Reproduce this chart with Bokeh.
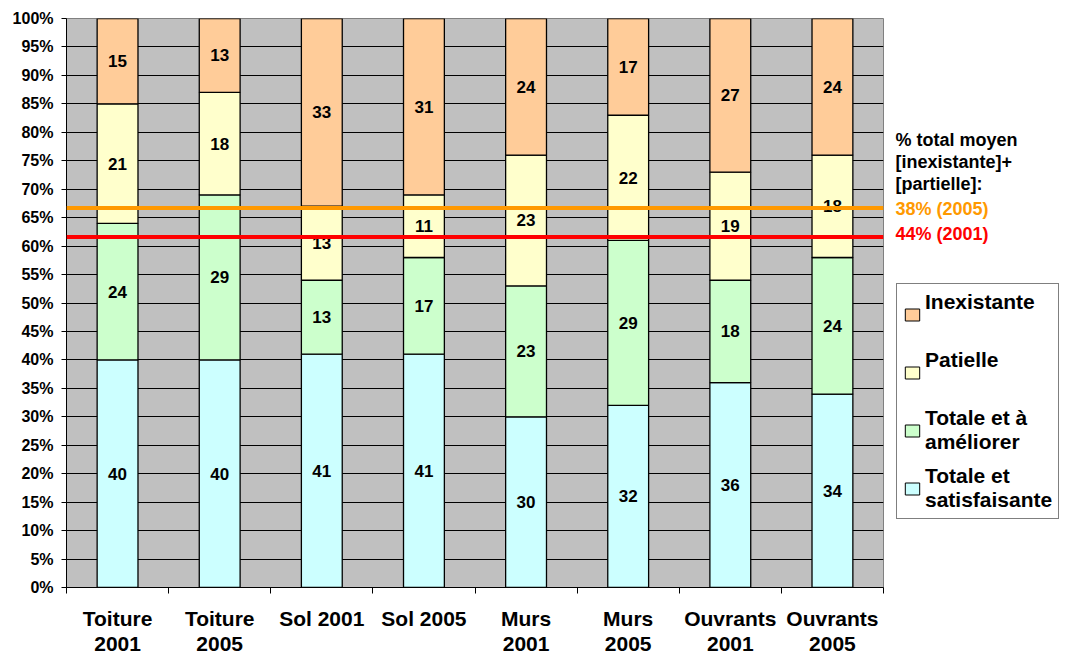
from bokeh.plotting import figure
from bokeh.layouts import row
from bokeh.models import (ColumnDataSource, FixedTicker, Range1d, Span, Label,
                          Legend, LegendItem)
from bokeh.core.properties import value
from bokeh.embed import file_html
from bokeh.resources import INLINE

categories = ["Toiture\n2001", "Toiture\n2005", "Sol 2001", "Sol 2005",
              "Murs\n2001", "Murs\n2005", "Ouvrants\n2001", "Ouvrants\n2005"]
satisfaisante = [40, 40, 41, 41, 30, 32, 36, 34]
ameliorer = [24, 29, 13, 17, 23, 29, 18, 24]
partielle = [21, 18, 13, 11, 23, 22, 19, 18]
inexistante = [15, 13, 33, 31, 24, 17, 27, 24]
series_names = ["Totale et\nsatisfaisante", "Totale et à\naméliorer",
                "Patielle\n\u00a0", "Inexistante\n\u00a0"]
series_colors = ["#CCFFFF", "#CCFFCC", "#FFFFCC", "#FFCC99"]
y_ticks = list(range(0, 101, 5))
moyen_2005 = 66.7
moyen_2001 = 61.6
note_lines = ["% total moyen", "[inexistante]+", "[partielle]:", "38% (2005)", "44% (2001)"]

FONT = "Liberation Sans"
n = len(categories)
xs = [i + 0.5 for i in range(n)]
keys = ["satisfaisante", "ameliorer", "partielle", "inexistante"]
data = dict(x=xs, satisfaisante=satisfaisante, ameliorer=ameliorer,
            partielle=partielle, inexistante=inexistante)
src = ColumnDataSource(data)

p = figure(frame_width=817, frame_height=569, x_range=Range1d(0, n),
           y_range=Range1d(0, 100), output_backend="svg", toolbar_location=None,
           min_border_left=66, min_border_top=18, min_border_right=5,
           min_border_bottom=40)
p.background_fill_color = "#C0C0C0"
p.border_fill_color = "white"
p.outline_line_color = "#808080"
p.outline_line_width = 1

rs = p.vbar_stack(keys, x="x", width=0.4, source=src, color=series_colors,
                  line_color="black", line_width=1.3)

# value labels
lx, ly, lt = [], [], []
stacks = [satisfaisante, ameliorer, partielle, inexistante]
for i in range(n):
    base = 0
    for s in stacks:
        v = s[i]
        lx.append(xs[i]); ly.append(base + v / 2); lt.append(str(v))
        base += v
p.text(x=lx, y=ly, text=lt, text_align="center", text_baseline="middle",
       text_font=value(FONT), text_font_style="bold", text_font_size="17px",
       text_color="black")

p.add_layout(Span(location=moyen_2005, dimension="width", line_color="#FF9900", line_width=4))
p.add_layout(Span(location=moyen_2001, dimension="width", line_color="#FF0000", line_width=4))

# axes
p.xgrid.grid_line_color = None
p.ygrid.grid_line_color = "black"
p.ygrid.grid_line_width = 1
p.yaxis.ticker = FixedTicker(ticks=y_ticks)
p.yaxis.major_label_overrides = {t: f"{t}%" for t in y_ticks}
p.yaxis.major_tick_out = 5
p.yaxis.major_tick_in = 0
p.yaxis.minor_tick_line_color = None
p.yaxis.major_label_standoff = 8
p.yaxis.major_label_text_font = FONT
p.yaxis.major_label_text_font_style = "bold"
p.yaxis.major_label_text_font_size = "16px"
p.yaxis.major_label_text_color = "black"
p.yaxis.axis_line_color = "black"

p.xaxis.ticker = FixedTicker(ticks=xs, minor_ticks=list(range(n + 1)))
p.xaxis.major_label_overrides = {xs[i]: categories[i] for i in range(n)}
p.xaxis.major_tick_line_color = None
p.xaxis.minor_tick_out = 6
p.xaxis.minor_tick_in = 0
p.xaxis.minor_tick_line_color = "black"
p.xaxis.major_label_standoff = 13
p.xaxis.major_label_text_font = FONT
p.xaxis.major_label_text_font_style = "bold"
p.xaxis.major_label_text_font_size = "21px"
p.xaxis.major_label_text_line_height = 1.1
p.xaxis.major_label_text_color = "black"
p.xaxis.axis_line_color = "black"

# side panel: note + legend
side = figure(width=175, frame_height=569, x_range=Range1d(0, 175),
              y_range=Range1d(0, 100), output_backend="svg", toolbar_location=None,
              min_border_left=0, min_border_right=0, min_border_top=18,
              min_border_bottom=66)
side.axis.visible = False
side.grid.grid_line_color = None
side.outline_line_color = None
side.background_fill_color = "white"
side.border_fill_color = "white"

note_colors = ["black", "black", "black", "#FF9900", "#FF0000"]
note_y = [78.6, 74.7, 70.9, 66.5, 62.2]
for t, c, yy in zip(note_lines, note_colors, note_y):
    side.add_layout(Label(x=7, y=yy, text=t, text_color=c, text_font=FONT,
                          text_font_style="bold", text_font_size="18px",
                          text_baseline="alphabetic"))

srs = side.vbar_stack(keys, x="x", width=0.4, source=src, color=series_colors,
                      line_color="black", line_width=1, visible=False)
items = [LegendItem(label=series_names[k], renderers=[srs[k]]) for k in [3, 2, 1, 0]]
legend = Legend(items=items, location=(8, 68))
legend.label_text_font = FONT
legend.label_text_font_style = "bold"
legend.label_text_font_size = "21px"
legend.label_text_line_height = 1.15
legend.label_text_color = "black"
legend.glyph_width = 18
legend.glyph_height = 15
legend.label_standoff = 4
legend.label_height = 20
legend.spacing = 10
legend.padding = 6
legend.margin = 0
legend.border_line_color = "black"
legend.border_line_width = 1
legend.background_fill_color = "white"
legend.background_fill_alpha = 1
legend.inactive_fill_alpha = 0
legend.click_policy = "none"
side.add_layout(legend)

layout = row(p, side)
open("out.html", "w").write(file_html(layout, INLINE))
